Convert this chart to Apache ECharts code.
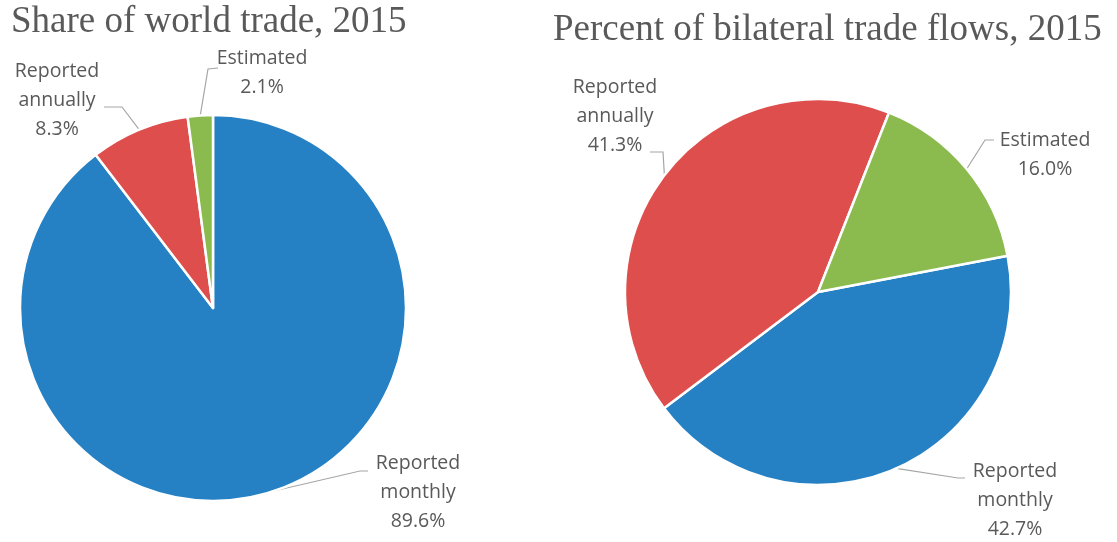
<!DOCTYPE html>
<html>
<head>
<meta charset="utf-8">
<script src="https://cdn.jsdelivr.net/npm/echarts@6/dist/echarts.min.js"></script>
<style>
html,body{margin:0;padding:0;background:#fff;}
#chart{width:1117px;height:542px;}
</style>
</head>
<body>
<div id="chart"></div>
<script>
const categories = ['Reported monthly', 'Reported annually', 'Estimated'];
const worldTradeShare = [89.6, 8.3, 2.1];
const bilateralFlowsShare = [42.7, 41.3, 16.0];
const titles = ['Share of world trade, 2015', 'Percent of bilateral trade flows, 2015'];
const colors = ['#2581C4', '#DE4E4C', '#8BBB4E'];

// label anchor points [labelX, labelY, bendX, bendY, endX, endY] per series / slice
const labelSpots = [
  [[418, 492, 360, 471, 368, 471], [57, 100, 122, 107, 104, 107], [262, 73, 208, 69, 218, 68]],
  [[1015, 500, 958, 478, 965, 478], [615, 116, 663, 152, 650, 152], [1045, 155, 985, 140, 994, 140]]
];

const chart = echarts.init(document.getElementById('chart'), null, {renderer: 'canvas'});

function makeSeries(values, idx, center, startAngle) {
  return {
    type: 'pie',
    center: center,
    radius: [0, 193],
    startAngle: startAngle,
    clockwise: true,
    avoidLabelOverlap: false,
    data: categories.map((c, i) => ({name: c, value: values[i], itemStyle: {color: colors[i]}})),
    itemStyle: {borderColor: '#fff', borderWidth: 2.5},
    label: {
      show: true,
      position: 'outside',
      formatter: p => p.name.replace(' ', '\n') + '\n' + p.value.toFixed(1) + '%',
      fontFamily: 'Open Sans',
      fontSize: 19.5,
      lineHeight: 29,
      color: '#595959',
      align: 'center'
    },
    labelLine: {show: true, length: 20, length2: 10, lineStyle: {color: '#A6A6A6', width: 1.2}},
    emphasis: {disabled: true},
    labelLayout: function (params) {
      const s = labelSpots[idx][params.dataIndex];
      const pts = params.labelLinePoints;
      const first = pts ? pts[0] : [s[2], s[3]];
      return {
        x: s[0], y: s[1], align: 'center', verticalAlign: 'middle',
        labelLinePoints: [first, [s[2], s[3]], [s[4], s[5]]]
      };
    }
  };
}

chart.setOption({
  animation: false,
  title: [
    {text: titles[0], left: 6, top: -1, textStyle: {fontFamily: 'Liberation Serif', fontSize: 37, fontWeight: 'normal', color: '#595959'}},
    {text: titles[1], left: 548, top: 7, textStyle: {fontFamily: 'Liberation Serif', fontSize: 37, fontWeight: 'normal', color: '#595959'}}
  ],
  series: [
    makeSeries(worldTradeShare, 0, [213, 308], 90),
    makeSeries(bilateralFlowsShare, 1, [818, 292], 10.8)
  ]
});
</script>
</body>
</html>
